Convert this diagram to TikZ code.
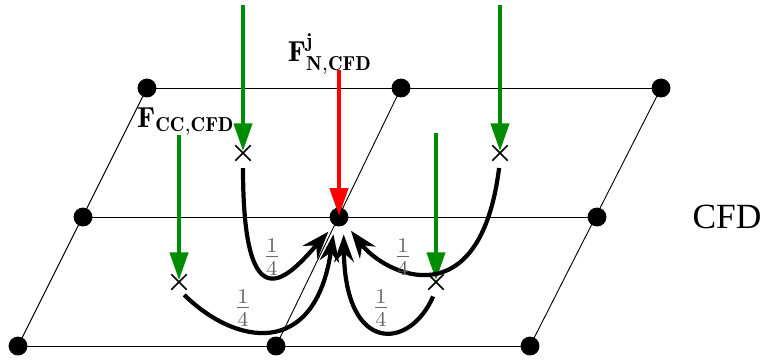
\documentclass[tikz,border=0pt]{standalone}
\usepackage{amsmath}
\usepackage{fontspec}
\newfontfamily\cfdfont{Liberation Serif}
\usetikzlibrary{arrows.meta, shapes.misc}
\definecolor{ccgreen}{RGB}{0,140,0}
\tikzset{
dot/.style={
    circle,
    fill=black,
    inner sep=0pt,
    minimum size=7.2pt
},
cell/.style={
    cross out,
    draw=black,
    line width=0.65pt,
    inner sep=0pt,
    minimum size=5.2pt
},
grid/.style={
    line width=0.35pt
},
ccforce/.style={
    -{Triangle[length=10.5pt,width=7pt]},
    line width=1.2pt,
    draw=ccgreen
},
nodeforce/.style={
    -{Triangle[length=10.5pt,width=7pt]},
    line width=1.2pt,
    draw=red
},
weight/.style={
    -{Stealth[length=10.5pt,width=7.5pt,inset=3.5pt]},
    line width=1.6pt,
    shorten <=2.8pt
},
frac/.style={
    text=black!60,
    font=\fontsize{12}{14}\selectfont
},
force/.style={
    font=\fontsize{11}{13}\selectfont
}
}

\begin{document}
\begin{tikzpicture}[x=0.381pt, y=-0.381pt]
\useasboundingbox (0,0) rectangle (763,362);

% GRID NODES
\node[dot] (bl) at (18,346) {};
\node[dot] (bm) at (276,346) {};
\node[dot] (br) at (530,346) {};
\node[dot] (ml) at (83,217) {};
\node[dot, outer sep=3.3pt] (mc) at (339,217) {};
\node[dot] (mr) at (597,217) {};
\node[dot] (tl) at (147,88) {};
\node[dot] (tm) at (401,88) {};
\node[dot] (tr) at (661,88) {};

% GRID LINES
\draw[grid] (bl.center) -- (br.center);
\draw[grid] (ml.center) -- (mr.center);
\draw[grid] (tl.center) -- (tr.center);
\draw[grid] (bl.center) -- (tl.center);
\draw[grid] (bm.center) -- (tm.center);
\draw[grid] (br.center) -- (tr.center);

% CELL CENTRES
\node[cell] (ctl) at (243,153) {};
\node[cell] (ctr) at (500,153) {};
\node[cell] (cbl) at (179,282) {};
\node[cell] (cbr) at (436,282) {};

% LABELS
\node[force] (fn) at (330,54) {$\mathbf{F}^{\mathbf{j}}_{\mathbf{N},\mathbf{CFD}}$};
\node[force] (fcc) at (186,122) {$\mathbf{F}_{\mathbf{CC},\mathbf{CFD}}$};
\node (cfd) at (727,217) {\cfdfont\fontsize{13.5}{16}\selectfont CFD};

% FORCES
\coordinate (gtl) at (243,5);
\coordinate (gtr) at (500,5);
\coordinate (gbl) at (179,135);
\coordinate (gbr) at (436,133);
\coordinate (rn) at (339,70);
\draw[ccforce, shorten >=0.8pt] (gtl) -- (ctl.center);
\draw[ccforce, shorten >=0.8pt] (gtr) -- (ctr.center);
\draw[ccforce, shorten >=0.8pt] (gbl) -- (cbl.center);
\draw[ccforce, shorten >=0.8pt] (gbr) -- (cbr.center);
\draw[nodeforce, shorten >=0.5pt] (rn) -- (mc.center);

% WEIGHTS
\draw[weight] (ctl.south) .. controls (243,330) and (290,275) .. (mc.-126);
\draw[weight] (ctr.south) .. controls (480,320) and (385,275) .. (mc.-49);
\draw[weight] (cbl.south) .. controls (235,345) and (315,360) .. (mc.-108);
\draw[weight] (cbr.south) .. controls (410,350) and (345,355) .. (mc.-75);

\node[frac] (w1) at (272,257) {$\frac{1}{4}$};
\node[frac] (w2) at (403,257) {$\frac{1}{4}$};
\node[frac] (w3) at (243,308) {$\frac{1}{4}$};
\node[frac] (w4) at (381,308) {$\frac{1}{4}$};

\end{tikzpicture}
\end{document}
